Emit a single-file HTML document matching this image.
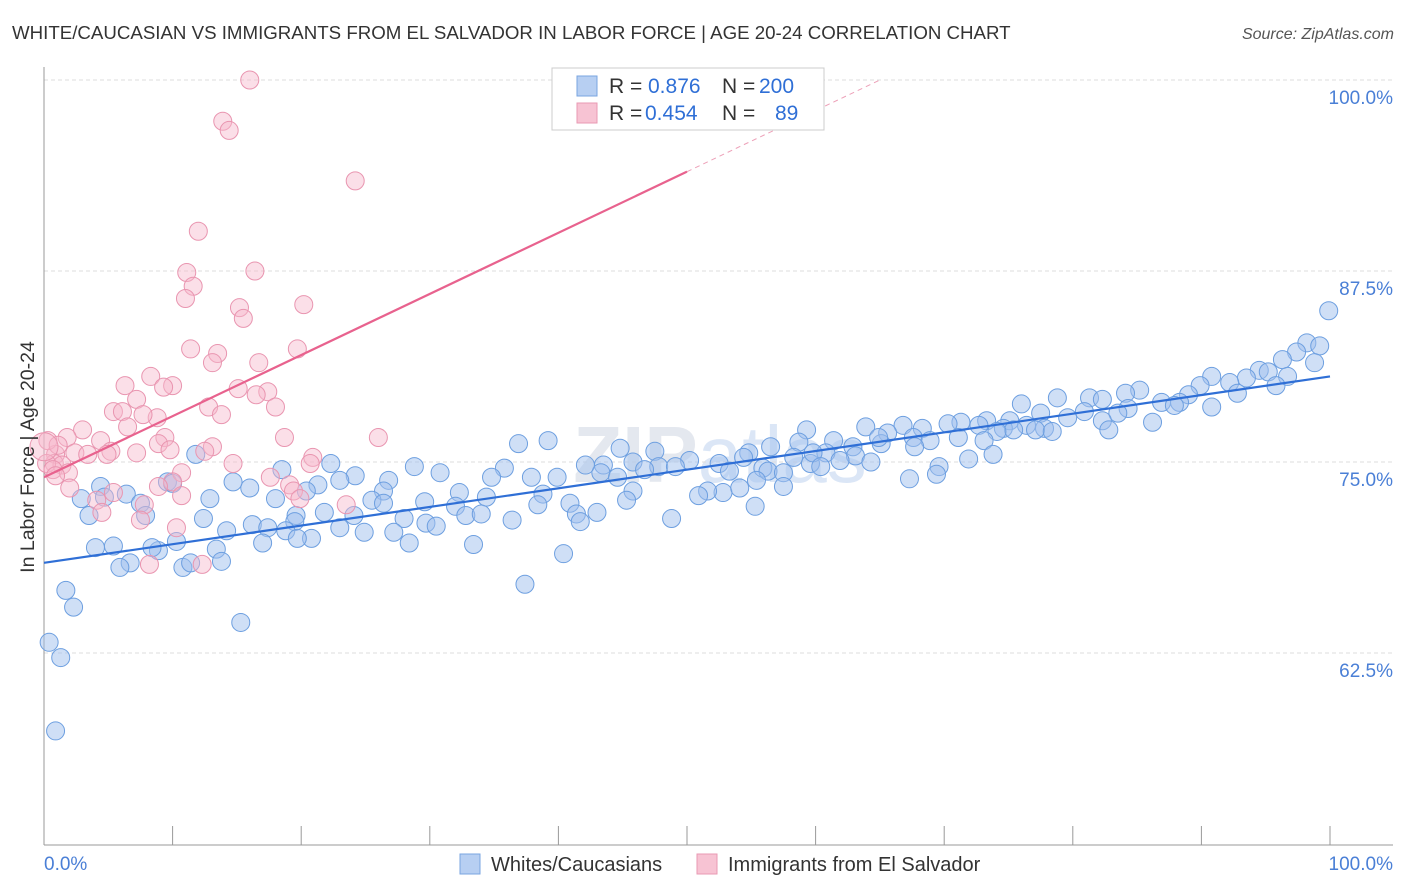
<!DOCTYPE html>
<html><head><meta charset="utf-8"><style>
body{margin:0;background:#fff;}
svg{display:block;font-family:"Liberation Sans",sans-serif;}
</style></head><body>
<svg id="chart" width="1406" height="892" xmlns="http://www.w3.org/2000/svg">
<text x="12" y="39" font-size="18.7" fill="#333">WHITE/CAUCASIAN VS IMMIGRANTS FROM EL SALVADOR IN LABOR FORCE | AGE 20-24 CORRELATION CHART</text>
<text x="1394" y="39" font-size="16" fill="#555" font-style="italic" text-anchor="end">Source: ZipAtlas.com</text>
<text x="720" y="482" font-size="80" fill="#e4e8ef" text-anchor="middle" font-weight="bold">ZIP<tspan font-weight="normal" fill="#dbe6f6">atlas</tspan></text>
<g id="grid"></g><g id="axes"></g><g id="pts"></g><g id="lines"></g>
<text transform="translate(34,457) rotate(-90)" font-size="19.5" fill="#333" text-anchor="middle">In Labor Force | Age 20-24</text>
<text x="44" y="870" font-size="19" fill="#4a7fd6">0.0%</text>
<text x="1393" y="870" font-size="19" fill="#4a7fd6" text-anchor="end">100.0%</text>
<g>
<rect x="552" y="68" width="272" height="62" fill="#fff" stroke="#ccc"/>
<rect x="577" y="76" width="20" height="20" fill="#b7cff2" stroke="#7aa5e0"/>
<rect x="577" y="103" width="20" height="20" fill="#f7c3d3" stroke="#e99ab3"/>
<text x="609" y="93" font-size="21" fill="#333">R = <tspan x="648" fill="#2f6fd6">0.876</tspan><tspan x="722">N = </tspan><tspan x="759" fill="#2f6fd6">200</tspan></text>
<text x="609" y="120" font-size="21" fill="#333">R = <tspan x="645" fill="#2f6fd6">0.454</tspan><tspan x="722">N = </tspan><tspan x="775" fill="#2f6fd6">89</tspan></text>
</g>
<g>
<rect x="460" y="854" width="20" height="20" fill="#b7cff2" stroke="#7aa5e0"/>
<text x="491" y="871" font-size="20" fill="#333">Whites/Caucasians</text>
<rect x="697" y="854" width="20" height="20" fill="#f7c3d3" stroke="#e99ab3"/>
<text x="728" y="871" font-size="20" fill="#333">Immigrants from El Salvador</text>
</g>
</svg>
<script>
const yTicks=[100,87.5,75,62.5];
const yTickLabels=["100.0%","87.5%","75.0%","62.5%"];
const xTicks=[0,10,20,30,40,50,60,70,80,90,100];
const blueX=[99.9,98.2,99.2,97.4,96.3,98.8,94.5,96.7,95.2,93.5,90.8,92.2,95.8,85.2,89.9,92.8,89.0,78.8,81.3,84.1,82.3,86.9,88.3,76.0,90.8,87.9,84.3,83.5,80.9,77.5,79.6,82.3,75.1,73.3,71.3,70.3,72.7,74.6,76.4,63.9,66.8,68.3,77.8,77.1,75.4,65.6,82.8,59.3,86.2,74.1,78.4,67.6,71.1,68.9,61.4,65.1,64.9,73.1,62.9,58.7,56.5,44.8,39.2,36.9,47.5,54.8,63.1,67.7,60.8,61.9,58.3,59.6,64.3,52.5,54.4,59.8,47.8,50.2,45.8,49.1,71.9,73.8,43.5,28.8,30.8,35.8,55.9,43.3,46.7,53.3,56.3,57.5,60.4,69.6,69.4,67.3,57.5,55.4,52.8,51.6,50.9,54.1,45.8,37.9,39.9,44.6,45.3,42.1,34.8,26.8,24.2,22.3,23.0,18.5,21.3,20.4,16.0,14.7,26.4,25.5,18.0,12.9,4.4,2.9,4.7,6.4,9.6,10.0,11.8,32.3,34.4,38.8,40.9,43.0,41.4,29.6,32.0,32.8,34.0,36.4,38.4,41.7,48.8,55.3,28.0,29.7,30.5,26.4,24.1,24.9,23.0,21.8,19.6,19.5,16.2,17.4,14.2,12.4,7.5,7.9,3.5,18.8,20.8,19.7,27.2,28.4,33.4,17.0,13.4,10.3,8.9,8.4,4.0,5.4,6.7,5.9,10.8,11.4,13.8,1.7,2.3,37.4,40.4,0.4,1.3,0.9,15.3];
const blueY=[84.9,82.8,82.6,82.2,81.7,81.5,81.0,80.6,80.9,80.5,80.6,80.2,80.0,79.7,80.0,79.5,79.4,79.2,79.2,79.5,79.1,78.9,78.9,78.8,78.6,78.7,78.5,78.2,78.3,78.2,77.9,77.7,77.7,77.7,77.6,77.5,77.4,77.2,77.4,77.3,77.4,77.2,77.2,77.1,77.1,76.9,77.1,77.1,77.6,77.0,77.0,76.6,76.6,76.4,76.4,76.2,76.6,76.4,76.0,76.3,76.0,75.9,76.4,76.2,75.7,75.6,75.4,76.0,75.6,75.1,75.3,74.9,75.0,74.9,75.3,75.6,74.7,75.1,75.0,74.7,75.2,75.5,74.8,74.7,74.3,74.6,74.6,74.3,74.5,74.4,74.4,74.3,74.7,74.7,74.2,73.9,73.4,73.8,73.0,73.1,72.8,73.3,73.1,74.0,74.0,74.0,72.5,74.8,74.0,73.8,74.1,74.9,73.8,74.5,73.5,73.1,73.3,73.7,73.1,72.5,72.6,72.6,73.4,72.6,72.7,72.9,73.7,73.6,75.5,73.0,72.7,72.9,72.3,71.7,71.6,72.4,72.1,71.5,71.6,71.2,72.2,71.1,71.3,72.1,71.3,71.0,70.8,72.3,71.5,70.4,70.7,71.7,71.5,71.1,70.9,70.7,70.5,71.3,72.3,71.5,71.5,70.5,70.0,70.0,70.4,69.7,69.6,69.7,69.3,69.8,69.2,69.4,69.4,69.5,68.4,68.1,68.1,68.4,68.5,66.6,65.5,67.0,69.0,63.2,62.2,57.4,64.5];
const pinkX=[16.0,13.9,14.4,24.2,12.0,11.1,16.4,11.6,11.0,20.2,15.2,15.5,11.4,19.7,13.5,13.1,16.7,8.3,6.3,10.0,9.3,17.4,15.1,16.5,7.2,18.0,12.8,5.4,6.1,8.8,13.8,7.7,6.5,3.0,1.8,26.0,18.7,9.4,4.4,8.9,13.1,9.8,12.5,5.2,2.4,7.2,0.9,3.4,4.9,20.9,14.7,20.7,0.8,1.4,0.2,0.7,1.9,10.7,17.6,0.9,10.0,19.1,19.4,2.0,5.4,8.9,10.7,19.9,4.1,7.8,4.5,23.5,7.5,10.3,8.2,12.3,0.3,1.1,0.0];
const pinkY=[100.0,97.3,96.7,93.4,90.1,87.4,87.5,86.5,85.7,85.3,85.1,84.4,82.4,82.4,82.1,81.5,81.5,80.6,80.0,80.0,79.9,79.6,79.8,79.4,79.1,78.6,78.6,78.3,78.3,77.9,78.1,78.1,77.3,77.1,76.6,76.6,76.6,76.6,76.4,76.2,76.0,75.8,75.7,75.7,75.6,75.6,75.5,75.5,75.5,75.3,74.9,74.9,74.9,74.8,74.9,74.5,74.3,74.3,74.0,74.1,73.7,73.5,73.1,73.3,73.0,73.4,72.8,72.6,72.5,72.2,71.7,72.2,71.2,70.7,68.3,68.3,76.4,76.1,76.0];
const blueTrendX=[0,100];
const blueTrend=[68.4,80.6];
const pinkTrendX=[0,50];
const pinkTrend=[74.0,94.0];
const NS="http://www.w3.org/2000/svg";
const X=v=>44+v*12.86;
const Y=v=>462-(v-75)*15.28;
function mk(tag,attrs,parent){const e=document.createElementNS(NS,tag);for(const k in attrs)e.setAttribute(k,attrs[k]);document.getElementById(parent).appendChild(e);return e;}
yTicks.forEach((t,i)=>{
 const l=mk('line',{x1:44,x2:1393,y1:Y(t),y2:Y(t),stroke:'#dcdcdc','stroke-dasharray':'4,3'},'grid');
 
 
 const tx=mk('text',{x:1393,y:Y(t)+24,'font-size':19,fill:'#4a7fd6','text-anchor':'end'},'grid');
 tx.textContent=yTickLabels[i];
 
 
});
const ya=mk('line',{x1:44,x2:44,y1:67,y2:845,stroke:'#999'},'axes');


const xa=mk('line',{x1:44,x2:1393,y1:845,y2:845,stroke:'#999'},'axes');


xTicks.forEach(t=>{
 const k=mk('line',{x1:X(t),x2:X(t),y1:826,y2:845,stroke:'#999'},'axes');
 
 
});
blueX.forEach((v,i)=>{
 const c=mk('circle',{cx:X(v),cy:Y(blueY[i]),r:9,fill:'rgba(160,192,238,0.5)',stroke:'#6d9fe0','stroke-width':1},'pts');
 
 
});
pinkX.forEach((v,i)=>{
 const c=mk('circle',{cx:X(v),cy:Y(pinkY[i]),r:i==pinkX.length-1?14:9,fill:'rgba(247,185,205,0.45)',stroke:'#e995b0','stroke-width':1},'pts');
 
 
});
const bl=mk('line',{x1:X(blueTrendX[0]),y1:Y(blueTrend[0]),x2:X(blueTrendX[1]),y2:Y(blueTrend[1]),stroke:'#2f6fd6','stroke-width':2.2},'lines');


const pl=mk('line',{x1:X(pinkTrendX[0]),y1:Y(pinkTrend[0]),x2:X(pinkTrendX[1]),y2:Y(pinkTrend[1]),stroke:'#e8628e','stroke-width':2.2},'lines');


const ps=(pinkTrend[1]-pinkTrend[0])/(pinkTrendX[1]-pinkTrendX[0]);
const xe=pinkTrendX[0]+(100-pinkTrend[0])/ps;
const pd=mk('line',{x1:X(pinkTrendX[1]),y1:Y(pinkTrend[1]),x2:X(xe),y2:Y(100),stroke:'#eda0b8','stroke-width':1,'stroke-dasharray':'5,4'},'lines');


</script>
</body></html>
